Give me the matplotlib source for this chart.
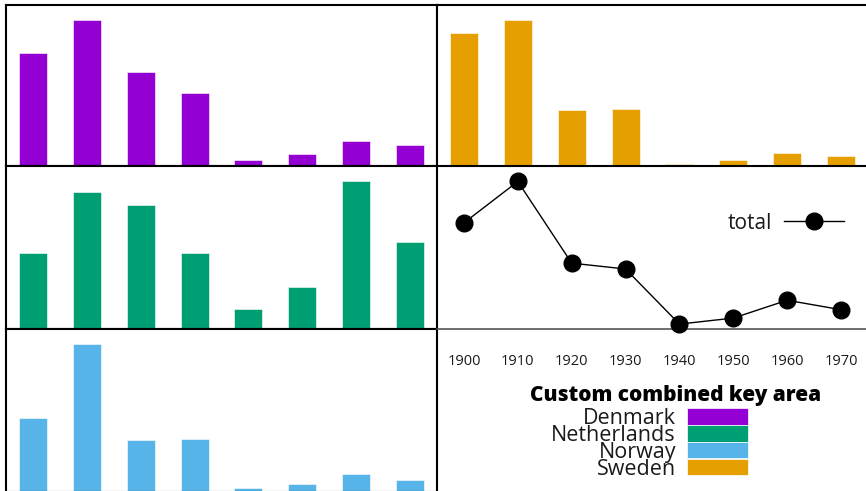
import matplotlib
matplotlib.use("Agg")
import matplotlib.pyplot as plt
from matplotlib.patches import Patch

plt.rcParams['font.family'] = ['Open Sans', 'DejaVu Sans']

years = [1900, 1910, 1920, 1930, 1940, 1950, 1960, 1970]
denmark = [50231, 65285, 41983, 32430, 2559, 5393, 10984, 9201]
netherlands = [26758, 48262, 43718, 26948, 7150, 14860, 52277, 30606]
norway = [95015, 190505, 66395, 68531, 4740, 10100, 22935, 15484]
sweden = [226266, 249534, 95074, 97249, 3960, 10665, 21697, 17116]
total = [d + n + o + s for d, n, o, s in zip(denmark, netherlands, norway, sweden)]

countries = ["Denmark", "Netherlands", "Norway", "Sweden"]
colors = {"Denmark": "#9400D3", "Netherlands": "#009E73",
          "Norway": "#56B4E9", "Sweden": "#E69F00"}
series = {"Denmark": denmark, "Netherlands": netherlands,
          "Norway": norway, "Sweden": sweden}
legend_title = "Custom combined key area"

W, H = 866, 491
fig = plt.figure(figsize=(W / 100, H / 100), dpi=100)


def px_axes(x0, y_top, w, h):
    return fig.add_axes([x0 / W, (H - y_top - h) / H, w / W, h / H])


colx = [6, 437]
colw = 431
rows = [(5, 161), (166, 163), (329, 163)]

positions = {
    "Denmark": (0, 0), "Sweden": (1, 0),
    "Netherlands": (0, 1), "Norway": (0, 2),
}
xs = list(range(len(years)))

for name, (c, r) in positions.items():
    yt, hh = rows[r]
    ax = px_axes(colx[c], yt, colw, hh)
    vals = series[name]
    ax.bar(xs, vals, width=0.52, color=colors[name], edgecolor="white",
           linewidth=0.4, zorder=2)
    ax.set_xlim(-0.5, len(years) - 0.5)
    ax.set_ylim(0, max(vals) * 1.1)
    ax.set_xticks([])
    ax.set_yticks([])
    for sp in ax.spines.values():
        sp.set_color("black")
        sp.set_linewidth(1.5)
        sp.set_zorder(3)

# total line panel
yt, hh = rows[1]
axt = px_axes(colx[1], yt, colw, hh)
axt.plot(xs, total, color="black", linewidth=1.0, marker="o",
         markersize=12, clip_on=False, zorder=5, label="total")
axt.set_xlim(-0.5, len(years) - 0.5)
axt.set_ylim(0, max(total) * 1.105)
axt.set_yticks([])
axt.set_xticks(xs)
axt.set_xticklabels([str(y) for y in years])
axt.tick_params(axis="x", length=0, pad=18, labelsize=10.5, labelcolor="#1a1a1a")
for k in ["top", "left", "right"]:
    axt.spines[k].set_visible(False)
axt.spines["bottom"].set_color("#555555")
axt.spines["bottom"].set_linewidth(1.2)
axt.patch.set_alpha(0)
axt.legend(loc="center right", bbox_to_anchor=(0.944, 0.65), frameon=False,
           markerfirst=False, fontsize=15, handlelength=2.85, handletextpad=0.6,
           borderpad=0, borderaxespad=0, labelcolor="#1a1a1a")

# combined key
fig.text(675.5 / W, 1 - 395.5 / H, legend_title, ha="center", va="center",
         fontsize=15, fontweight="heavy", color="black")
handles = [Patch(facecolor=colors[c], edgecolor="white", linewidth=0.5) for c in countries]
fig.legend(handles, countries, loc="upper right",
           bbox_to_anchor=(748 / W, 1 - 408 / H), frameon=False,
           markerfirst=False, fontsize=15.5, handlelength=2.85, handleheight=0.78,
           handletextpad=0.5, labelspacing=-0.19, borderpad=0, borderaxespad=0,
           labelcolor="#1a1a1a")

fig.savefig("out.png", dpi=100)
